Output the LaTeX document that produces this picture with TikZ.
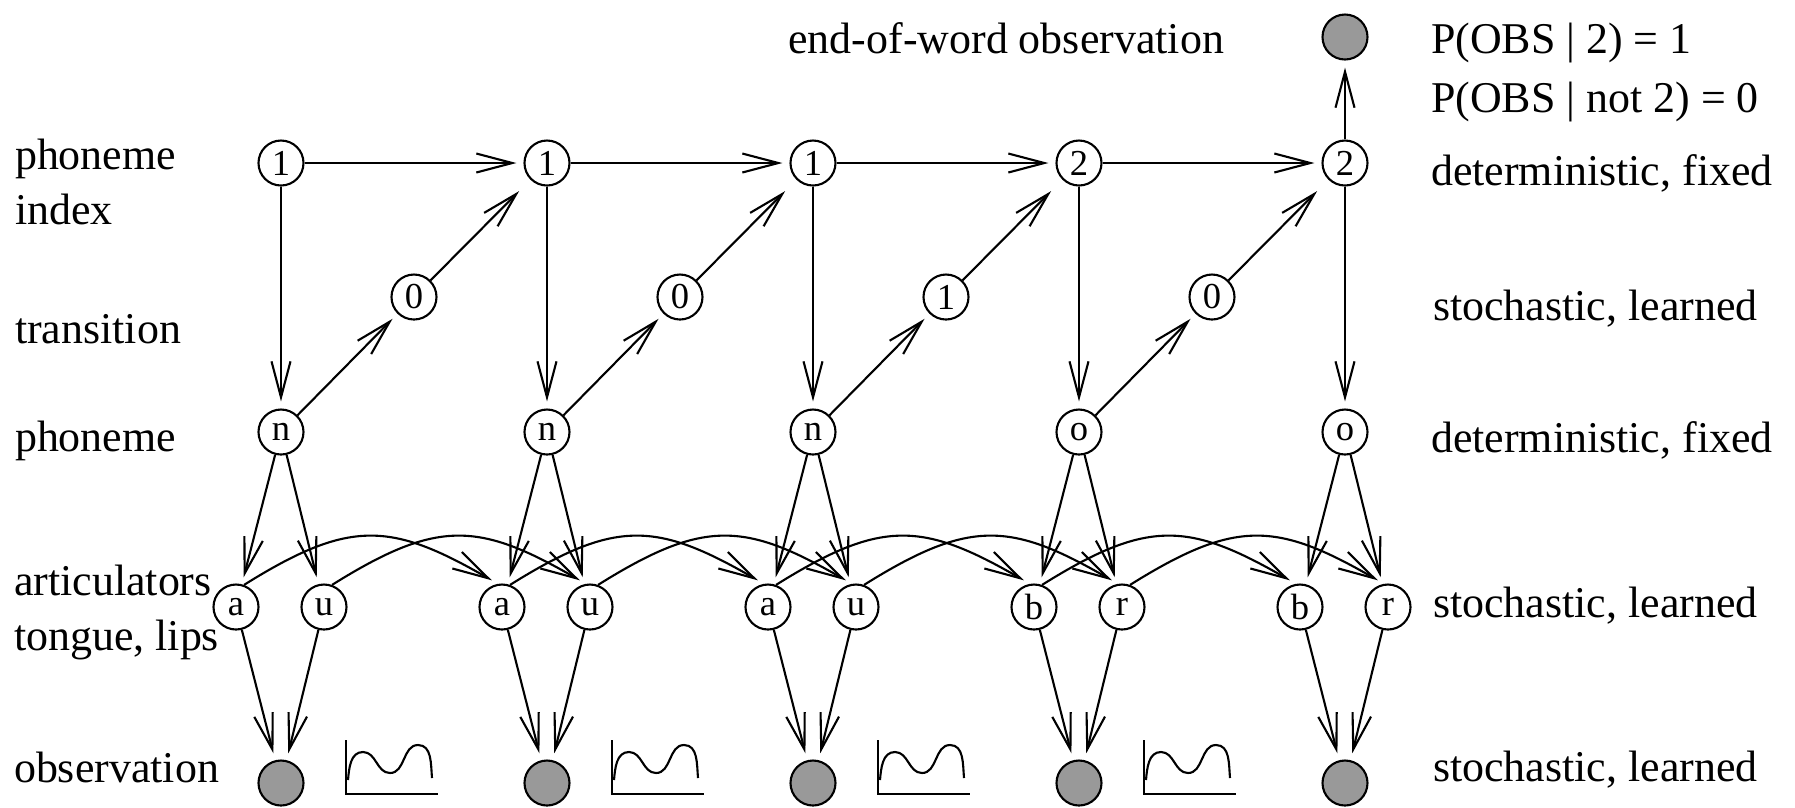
\documentclass[tikz,border=0pt]{standalone}
\usepackage{fontspec}
\setmainfont{Liberation Serif}
\usetikzlibrary{arrows.meta}
\usetikzlibrary{positioning}
\definecolor{obsgray}{gray}{0.6}

\begin{document}
\begin{tikzpicture}[->,>={Straight Barb[length=3.6mm,width=1.9mm]},line width=0.6pt,shorten >=0.7mm]

            % Define styles
            \tikzstyle{hidden} = [circle, draw, minimum size=4.5mm, inner sep=0pt, font=\fontsize{10.4}{12}\selectfont]
            \tikzstyle{observed} = [circle, draw, fill=obsgray, minimum size=4.5mm, inner sep=0pt]
            \tikzstyle{rowtext} = [anchor=base west, inner sep=0pt, font=\fontsize{12.5}{15}\selectfont]
            \tikzstyle{plotline} = [-, shorten >=0pt]

            \useasboundingbox (0,0) rectangle (17.95,-8.07);

            % Phoneme index
            \node[hidden] (idx1) at (2.81,-1.63) {1};
            \node[hidden] (idx2) at (5.47,-1.63) {1};
            \node[hidden] (idx3) at (8.13,-1.63) {1};
            \node[hidden] (idx4) at (10.79,-1.63) {2};
            \node[hidden] (idx5) at (13.45,-1.63) {2};

            % Transition
            \node[hidden] (tr1) at (4.14,-2.97) {0};
            \node[hidden] (tr2) at (6.80,-2.97) {0};
            \node[hidden] (tr3) at (9.46,-2.97) {1};
            \node[hidden] (tr4) at (12.12,-2.97) {0};

            % Phoneme
            \node[hidden] (ph1) at (2.81,-4.32) {n};
            \node[hidden] (ph2) at (5.47,-4.32) {n};
            \node[hidden] (ph3) at (8.13,-4.32) {n};
            \node[hidden] (ph4) at (10.79,-4.32) {o};
            \node[hidden] (ph5) at (13.45,-4.32) {o};

            % Articulators
            \node[hidden] (tg1) at (2.36,-6.07) {a};
            \node[hidden] (lp1) at (3.24,-6.07) {u};
            \node[hidden] (tg2) at (5.02,-6.07) {a};
            \node[hidden] (lp2) at (5.90,-6.07) {u};
            \node[hidden] (tg3) at (7.68,-6.07) {a};
            \node[hidden] (lp3) at (8.56,-6.07) {u};
            \node[hidden] (tg4) at (10.34,-6.07) {b};
            \node[hidden] (lp4) at (11.22,-6.07) {r};
            \node[hidden] (tg5) at (13.00,-6.07) {b};
            \node[hidden] (lp5) at (13.88,-6.07) {r};

            % Observations
            \node[observed] (obs1) at (2.81,-7.83) {};
            \node[observed] (obs2) at (5.47,-7.83) {};
            \node[observed] (obs3) at (8.13,-7.83) {};
            \node[observed] (obs4) at (10.79,-7.83) {};
            \node[observed] (obs5) at (13.45,-7.83) {};
            \node[observed] (eow) at (13.45,-0.37) {};

            % Row names
            \node[rowtext] (txtidx) at (0.14,-1.69) {phoneme};
            \node[rowtext] (txtidxb) at (0.14,-2.24) {index};
            \node[rowtext] (txttr) at (0.14,-3.43) {transition};
            \node[rowtext] (txtph) at (0.14,-4.51) {phoneme};
            \node[rowtext] (txtart) at (0.13,-5.95) {articulators};
            \node[rowtext] (txtartb) at (0.13,-6.50) {tongue, lips};
            \node[rowtext] (txtobs) at (0.13,-7.82) {observation};
            \node[rowtext, anchor=base east] (txteow) at (12.25,-0.53) {end-of-word observation};

            % Row kinds
            \node[rowtext] (pone) at (14.30,-0.53) {P(OBS | 2) = 1};
            \node[rowtext] (pzero) at (14.30,-1.12) {P(OBS | not 2) = 0};
            \node[rowtext] (kindidx) at (14.30,-1.85) {deterministic, fixed};
            \node[rowtext] (kindtr) at (14.32,-3.20) {stochastic, learned};
            \node[rowtext] (kindph) at (14.30,-4.52) {deterministic, fixed};
            \node[rowtext] (kindart) at (14.32,-6.17) {stochastic, learned};
            \node[rowtext] (kindobs) at (14.32,-7.81) {stochastic, learned};

            % Index chain
            \draw[->] (idx1) -- (idx2);
            \draw[->] (idx2) -- (idx3);
            \draw[->] (idx3) -- (idx4);
            \draw[->] (idx4) -- (idx5);
            \draw[->] (idx5) -- (eow);

            % Index to phoneme
            \draw[->] (idx1) -- (ph1);
            \draw[->] (idx2) -- (ph2);
            \draw[->] (idx3) -- (ph3);
            \draw[->] (idx4) -- (ph4);
            \draw[->] (idx5) -- (ph5);

            % Phoneme to transition to next index
            \draw[->] (ph1) -- (tr1);
            \draw[->] (ph2) -- (tr2);
            \draw[->] (ph3) -- (tr3);
            \draw[->] (ph4) -- (tr4);
            \draw[->, shorten >=1.6mm] (tr1) -- (idx2);
            \draw[->, shorten >=1.6mm] (tr2) -- (idx3);
            \draw[->, shorten >=1.6mm] (tr3) -- (idx4);
            \draw[->, shorten >=1.6mm] (tr4) -- (idx5);

            % Phoneme to articulators
            \draw[->] (ph1) -- (tg1);
            \draw[->] (ph1) -- (lp1);
            \draw[->] (ph2) -- (tg2);
            \draw[->] (ph2) -- (lp2);
            \draw[->] (ph3) -- (tg3);
            \draw[->] (ph3) -- (lp3);
            \draw[->] (ph4) -- (tg4);
            \draw[->] (ph4) -- (lp4);
            \draw[->] (ph5) -- (tg5);
            \draw[->] (ph5) -- (lp5);

            % Articulators over time
            \draw[->] (tg1.70) to[out=32,in=150,looseness=1.25] (tg2.100);
            \draw[->] (lp1.70) to[out=32,in=150,looseness=1.25] (lp2.100);
            \draw[->] (tg2.70) to[out=32,in=150,looseness=1.25] (tg3.100);
            \draw[->] (lp2.70) to[out=32,in=150,looseness=1.25] (lp3.100);
            \draw[->] (tg3.70) to[out=32,in=150,looseness=1.25] (tg4.100);
            \draw[->] (lp3.70) to[out=32,in=150,looseness=1.25] (lp4.100);
            \draw[->] (tg4.70) to[out=32,in=150,looseness=1.25] (tg5.100);
            \draw[->] (lp4.70) to[out=32,in=150,looseness=1.25] (lp5.100);

            % Articulators to observation
            \draw[->] (tg1) -- (obs1);
            \draw[->] (lp1) -- (obs1);
            \draw[->] (tg2) -- (obs2);
            \draw[->] (lp2) -- (obs2);
            \draw[->] (tg3) -- (obs3);
            \draw[->] (lp3) -- (obs3);
            \draw[->] (tg4) -- (obs4);
            \draw[->] (lp4) -- (obs4);
            \draw[->] (tg5) -- (obs5);
            \draw[->] (lp5) -- (obs5);

            % Signal sketches
            \draw[plotline, shift={(3.46,-7.94)}] (0,0.54) -- (0,0) -- (0.92,0);
            \draw[plotline, shift={(3.46,-7.94)}] (0.02,0.14) to[out=85,in=180] (0.17,0.42) to[out=0,in=180] (0.44,0.21) to[out=0,in=180] (0.72,0.49) to[out=0,in=95] (0.86,0.16);
            \draw[plotline, shift={(6.12,-7.94)}] (0,0.54) -- (0,0) -- (0.92,0);
            \draw[plotline, shift={(6.12,-7.94)}] (0.02,0.14) to[out=85,in=180] (0.17,0.42) to[out=0,in=180] (0.44,0.21) to[out=0,in=180] (0.72,0.49) to[out=0,in=95] (0.86,0.16);
            \draw[plotline, shift={(8.78,-7.94)}] (0,0.54) -- (0,0) -- (0.92,0);
            \draw[plotline, shift={(8.78,-7.94)}] (0.02,0.14) to[out=85,in=180] (0.17,0.42) to[out=0,in=180] (0.44,0.21) to[out=0,in=180] (0.72,0.49) to[out=0,in=95] (0.86,0.16);
            \draw[plotline, shift={(11.44,-7.94)}] (0,0.54) -- (0,0) -- (0.92,0);
            \draw[plotline, shift={(11.44,-7.94)}] (0.02,0.14) to[out=85,in=180] (0.17,0.42) to[out=0,in=180] (0.44,0.21) to[out=0,in=180] (0.72,0.49) to[out=0,in=95] (0.86,0.16);

        \end{tikzpicture}
\end{document}
